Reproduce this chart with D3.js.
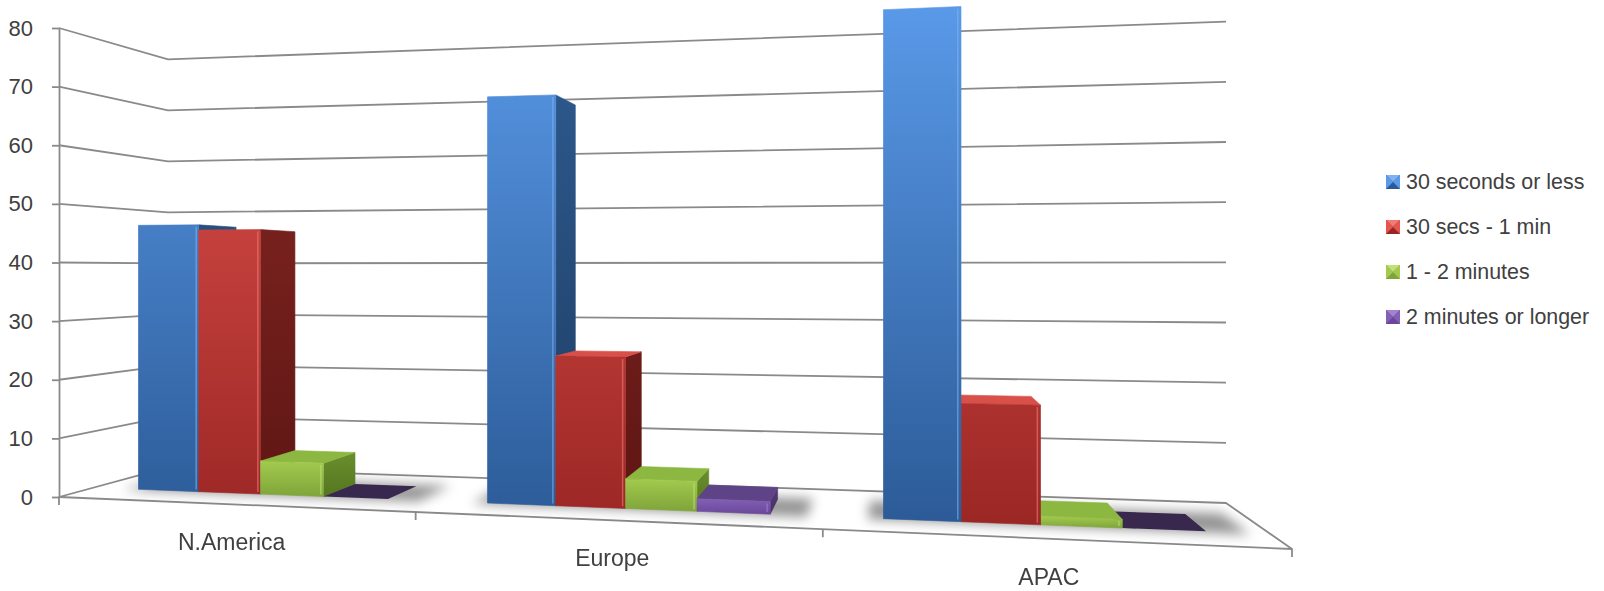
<!DOCTYPE html>
<html><head><meta charset="utf-8">
<script src="https://cdn.jsdelivr.net/npm/d3@7"></script>
<style>html,body{margin:0;padding:0;background:#fff;} svg{display:block;font-family:"Liberation Sans",Arial,sans-serif;}</style>
</head><body>
<svg id="chart" width="1604" height="591"></svg>
<script>
// ---------------- DATA ----------------
const categories = ["N.America", "Europe", "APAC"];
const seriesNames = ["30 seconds or less", "30 secs - 1 min", "1 - 2 minutes", "2 minutes or longer"];
const s30orLess = [46.6, 67.5, 79.3];
const s30to60   = [45.7, 24.6, 18.2];
const s1to2min  = [5.7, 4.8, 1.3];
const s2minPlus = [0, 2.0, 0];
const yTicks = [0, 10, 20, 30, 40, 50, 60, 70, 80];
const seriesValues = [s30orLess, s30to60, s1to2min, s2minPlus];

// ---------------- STYLE ----------------
const palette = [
  {front: ["#5a9ae9", "#2b5a96"], side: ["#2f5d93", "#1e3c62"], top: "#4f8fdc", hl: "#7fb2ee", flat: "#23406a"},
  {front: ["#e65550", "#9a2624"], side: ["#8c2a26", "#5c1513"], top: "#d9504a", hl: "#f07a74", flat: "#5c1513"},
  {front: ["#a3ca4e", "#7fa43a"], side: ["#6a8e2e", "#55761f"], top: "#8cb842", hl: "#bfe07a", flat: "#6b9a32"},
  {front: ["#8260b4", "#6a479a"], side: ["#553a7a", "#45305f"], top: "#5e4386", hl: "#a383d0", flat: "#38284e"}
];
const gridColor = "#8a8a8a";
const textColor = "#404040";

// ---------------- GEOMETRY (perspective frame) ----------------
const FL = [59, 497], FR = [1292, 549], BR = [1226, 503], BL = [168, 467.3];
const HORIZON = 268.7, TOP_FL_Y = 28;
const W_FRONT = 0.29, W_BACK = 0.675, K = 0.0675;

function squareToQuad(p0, p1, p2, p3) {
  const [x0, y0] = p0, [x1, y1] = p1, [x2, y2] = p2, [x3, y3] = p3;
  const dx1 = x1 - x2, dx2 = x3 - x2, dx3 = x0 - x1 + x2 - x3;
  const dy1 = y1 - y2, dy2 = y3 - y2, dy3 = y0 - y1 + y2 - y3;
  const det = dx1 * dy2 - dx2 * dy1;
  const g = (dx3 * dy2 - dx2 * dy3) / det, h = (dx1 * dy3 - dx3 * dy1) / det;
  return {a: x1 - x0 + g * x1, b: x3 - x0 + h * x3, c: x0,
          d: y1 - y0 + g * y1, e: y3 - y0 + h * y3, f: y0, g, h};
}
const H = squareToQuad(FL, FR, BR, BL);
const hcFrac = (FL[1] - HORIZON) / (FL[1] - TOP_FL_Y);
const warp = u => u * (1 + K) / (1 + K * u);
const ucam = (H.b - H.h * H.c) / (H.h * H.a - H.b * H.g);

const vScale = d3.scaleLinear().domain([0, 80]).range([0, 1]);
const xBand = d3.scaleBand().domain(categories).range([0, 1]).paddingInner(0).paddingOuter(0);
const sBand = d3.scaleBand().domain(seriesNames).range([0, xBand.bandwidth()]).paddingInner(0).paddingOuter(0.75);

function P(u, w, hgt) {
  const uu = warp(u);
  const D = H.g * uu + H.h * w + 1;
  const x = (H.a * uu + H.b * w + H.c) / D;
  const y0 = (H.d * uu + H.e * w + H.f) / D;
  return [x, y0 - hgt * (y0 - HORIZON) / hcFrac];
}
const poly = pts => "M" + pts.map(p => p[0].toFixed(2) + "," + p[1].toFixed(2)).join("L") + "Z";

const svg = d3.select("#chart");
const defs = svg.append("defs");
palette.forEach((p, i) => {
  const useUser = i < 2;
  const mk = (id, cols) => {
    const g = defs.append("linearGradient").attr("id", id).attr("x1", 0).attr("x2", 0).attr("y1", 0).attr("y2", useUser ? 530 : 1);
    if (useUser) g.attr("gradientUnits", "userSpaceOnUse");
    g.append("stop").attr("offset", 0).attr("stop-color", cols[0]);
    g.append("stop").attr("offset", 1).attr("stop-color", cols[1]);
  };
  mk("front" + i, p.front);
  mk("side" + i, p.side);
});
const blur = defs.append("filter").attr("id", "shadowBlur").attr("x", "-20%").attr("y", "-50%").attr("width", "140%").attr("height", "200%");
blur.append("feGaussianBlur").attr("stdDeviation", 6);

// ---------------- WALLS & FLOOR ----------------
const gWalls = svg.append("g");
gWalls.append("path")
  .attr("d", poly([P(0, 0, 0), P(1, 0, 0), P(1, 1, 0), P(0, 1, 0)]))
  .attr("fill", "#fff").attr("stroke", gridColor).attr("stroke-width", 1.8).attr("stroke-linejoin", "round");
yTicks.filter(t => t > 0).forEach(t => {
  const h = vScale(t);
  gWalls.append("path")
    .attr("d", "M" + [P(0, 0, h), P(0, 1, h), P(1, 1, h)].map(p => p.join(",")).join("L"))
    .attr("fill", "none").attr("stroke", gridColor).attr("stroke-width", 1.8);
});

// category tick marks
const bounds = categories.map(c => xBand(c)).concat([1]);
bounds.forEach(u => {
  const p = P(u, 0, 0);
  gWalls.append("line").attr("x1", p[0]).attr("x2", p[0]).attr("y1", p[1]).attr("y2", p[1] + 8)
    .attr("stroke", gridColor).attr("stroke-width", 1.8);
});

// y axis
const y0 = P(0, 0, 0), yTop = P(0, 0, 1);
const yAxisScale = d3.scaleLinear().domain([0, 80]).range([y0[1], yTop[1]]);
const yAxis = d3.axisLeft(yAxisScale).tickValues(yTicks).tickSize(7).tickSizeOuter(0).tickPadding(19);
const gy = svg.append("g").attr("transform", `translate(${y0[0]},0)`).call(yAxis);
gy.selectAll("path,line").attr("stroke", gridColor).attr("stroke-width", 1.8);
gy.selectAll("text").attr("fill", textColor).style("font-size", "22px").style("font-family", '"Liberation Sans",Arial,sans-serif');

// ---------------- BARS ----------------
const bars = [];
categories.forEach((c, ci) => {
  seriesNames.forEach((s, si) => {
    const ul = xBand(c) + sBand(s), ur = ul + sBand.bandwidth();
    bars.push({ci, si, ul, ur, h: vScale(seriesValues[si][ci])});
  });
});

// shadows
const gShadow = svg.append("g").attr("filter", "url(#shadowBlur)");
categories.forEach((c, ci) => {
  const cb = bars.filter(b => b.ci === ci);
  const ul = cb[0].ul - 0.012, ur = cb[cb.length - 1].ur + 0.03;
  gShadow.append("path")
    .attr("d", poly([P(ul, W_FRONT - 0.03, 0), P(ur, W_FRONT - 0.03, 0), P(ur, W_BACK + 0.05, 0), P(ul, W_BACK + 0.05, 0)]))
    .attr("fill", "#000").attr("opacity", 0.42);
});

const gBars = svg.append("g");
bars.slice().sort((a, b) => Math.abs((warp(b.ul) + warp(b.ur)) / 2 - ucam) - Math.abs((warp(a.ul) + warp(a.ur)) / 2 - ucam))
  .forEach(b => {
    const p = palette[b.si];
    const g = gBars.append("g");
    if (b.h <= 0.0001) {
      g.append("path").attr("d", poly([P(b.ul, W_FRONT, 0), P(b.ur, W_FRONT, 0), P(b.ur, W_BACK, 0), P(b.ul, W_BACK, 0)]))
        .attr("fill", p.flat);
      return;
    }
    if (warp(b.ur) < ucam) {
      g.append("path").attr("d", poly([P(b.ur, W_FRONT, 0), P(b.ur, W_BACK, 0), P(b.ur, W_BACK, b.h), P(b.ur, W_FRONT, b.h)]))
        .attr("fill", `url(#side${b.si})`).attr("stroke", `url(#side${b.si})`).attr("stroke-width", 0.6);
    }
    if (warp(b.ul) > ucam) {
      g.append("path").attr("d", poly([P(b.ul, W_FRONT, 0), P(b.ul, W_BACK, 0), P(b.ul, W_BACK, b.h), P(b.ul, W_FRONT, b.h)]))
        .attr("fill", `url(#side${b.si})`).attr("stroke", `url(#side${b.si})`).attr("stroke-width", 0.6);
    }
    if (b.h < hcFrac) {
      g.append("path").attr("d", poly([P(b.ul, W_FRONT, b.h), P(b.ur, W_FRONT, b.h), P(b.ur, W_BACK, b.h), P(b.ul, W_BACK, b.h)]))
        .attr("fill", p.top).attr("stroke", p.top).attr("stroke-width", 0.6).attr("stroke-linejoin", "round");
    }
    g.append("path").attr("d", poly([P(b.ul, W_FRONT, 0), P(b.ur, W_FRONT, 0), P(b.ur, W_FRONT, b.h), P(b.ul, W_FRONT, b.h)]))
      .attr("fill", `url(#front${b.si})`).attr("stroke", `url(#front${b.si})`).attr("stroke-width", 0.6).attr("stroke-linejoin", "round");
    // bevel highlight near the right edge of the front face
    const e1 = P(b.ur - 0.0025, W_FRONT, 0), e2 = P(b.ur - 0.0025, W_FRONT, b.h);
    g.append("line").attr("x1", e1[0]).attr("x2", e2[0]).attr("y1", e1[1] - 2).attr("y2", e2[1] + 2)
      .attr("stroke", p.hl).attr("stroke-width", 1.5).attr("opacity", 0.6);
  });

// ---------------- CATEGORY LABELS ----------------
categories.forEach(c => {
  const p = P(xBand(c) + xBand.bandwidth() / 2, 0, 0);
  svg.append("text").attr("x", p[0]).attr("y", p[1] + 38).attr("text-anchor", "middle").attr("dominant-baseline", "central")
    .attr("fill", textColor).style("font-size", "23px").text(c);
});

// ---------------- LEGEND ----------------
const legend = svg.append("g").attr("transform", "translate(1386,182)");
seriesNames.forEach((s, i) => {
  const p = palette[i];
  const g = legend.append("g").attr("transform", `translate(0,${i * 45})`);
  const sz = 14, x0 = 0, yy = -7, cx = 7, cy = 0;
  g.append("rect").attr("x", x0).attr("y", yy).attr("width", sz).attr("height", sz).attr("fill", p.front[1]);
  g.append("path").attr("d", `M${x0},${yy}L${x0 + sz},${yy}L${cx},${cy}Z`).attr("fill", p.hl);
  g.append("path").attr("d", `M${x0},${yy}L${cx},${cy}L${x0},${yy + sz}Z`).attr("fill", p.front[0]);
  g.append("path").attr("d", `M${x0 + sz},${yy}L${cx},${cy}L${x0 + sz},${yy + sz}Z`).attr("fill", p.front[0]);
  g.append("text").attr("x", 20).attr("y", 0).attr("dominant-baseline", "central").attr("fill", textColor)
    .style("font-size", "21.4px").text(s);
});
</script>
</body></html>
